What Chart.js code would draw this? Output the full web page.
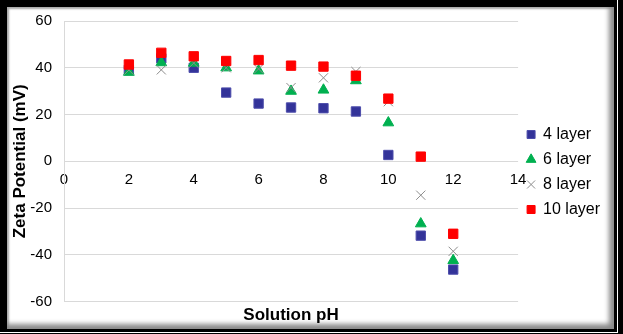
<!DOCTYPE html>
<html>
<head>
<meta charset="utf-8">
<script src="https://cdn.jsdelivr.net/npm/chart.js@4.4.0/dist/chart.umd.min.js"></script>
<style>
  html, body { margin: 0; padding: 0; background: #000; }
  #frame { position: relative; width: 623px; height: 334px; background: #000; overflow: hidden; }
  #panel { position: absolute; left: 7px; top: 7px; width: 607px; height: 322px; background: #fff;
           box-shadow: inset -5px -5px 5px #8a8a8a, inset 2px 2px 2px #aaa; }
  #edge { position: absolute; left: 0; top: 0; width: 618px; height: 333px; box-sizing: border-box;
          border-right: 1px solid #fff; border-bottom: 1px solid #fff; }
  canvas { position: absolute; left: 0; top: 0; }
</style>
</head>
<body>
<div id="frame">
  <div id="edge"></div>
  <div id="panel"></div>
  <canvas id="zetaChart" width="623" height="334"></canvas>
</div>
<script>
// pH values measured
var phValues = [2, 3, 4, 5, 6, 7, 8, 9, 10, 11, 12];

// zeta potential (mV) for each coating
var layer4 = [39, 44, 40, 29.4, 24.7, 23, 22.7, 21.3, 2.7, -31.8, -46.3];
var layer6 = [38.1, 42.2, 42, 40, 38.7, 30, 30.5, 34.5, 16.5, -26.7, -42.4];
var layer8 = [39, 39.1, 42, 40, 39.5, 31.5, 35.7, 38.4, 25.5, -14.5, -38.5];
var layer10 = [41.4, 46.4, 44.9, 42.9, 43.3, 40.9, 40.5, 36.6, 26.8, 2, -31];

var xTicks = [0, 2, 4, 6, 8, 10, 12, 14];

function toPoints(ys) {
    return ys.map(function (y, i) { return { x: phValues[i], y: y }; });
}

var ctx = document.getElementById('zetaChart').getContext('2d');
new Chart(ctx, {
    type: 'scatter',
    data: {
        datasets: [{
            label: '4 layer',
            data: toPoints(layer4),
            pointStyle: 'rect',
            pointRadius: 6.6,
            backgroundColor: '#333399',
            borderColor: '#4d4dab',
            borderWidth: 1,
            order: 4
        }, {
            label: '6 layer',
            data: toPoints(layer6),
            pointStyle: 'triangle',
            pointRadius: 6.2,
            backgroundColor: '#00b050',
            borderColor: '#00b050',
            borderWidth: 1,
            order: 3
        }, {
            label: '8 layer',
            data: toPoints(layer8),
            pointStyle: 'crossRot',
            pointRadius: 6.5,
            backgroundColor: '#8c8c8c',
            borderColor: '#8c8c8c',
            borderWidth: 1,
            order: 2
        }, {
            label: '10 layer',
            data: toPoints(layer10),
            pointStyle: 'rect',
            pointRadius: 6.6,
            backgroundColor: '#ff0000',
            borderColor: '#ff0000',
            borderWidth: 1,
            order: 1
        }]
    },
    options: {
        responsive: false,
        animation: false,
        layout: { padding: { left: 8, top: 18, right: 13, bottom: 8 } },
        plugins: {
            tooltip: { enabled: false },
            legend: {
                position: 'right',
                labels: {
                    usePointStyle: true,
                    boxWidth: 8,
                    boxHeight: 8,
                    padding: 9,
                    color: '#000',
                    font: { family: 'Arial, "Liberation Sans"', size: 16 },
                    sort: function (a, b) { return a.datasetIndex - b.datasetIndex; }
                }
            }
        },
        scales: {
            x: {
                type: 'linear',
                position: { y: 0 },
                min: 0,
                max: 14,
                grid: { display: false, drawTicks: false },
                border: { display: false },
                ticks: {
                    stepSize: 2,
                    padding: 10,
                    color: '#000',
                    font: { family: 'Arial, "Liberation Sans"', size: 15 },
                    callback: function (v) { return xTicks.indexOf(v) >= 0 ? v : ''; }
                }
            },
            xTitle: {
                type: 'linear',
                axis: 'x',
                position: 'bottom',
                min: 0,
                max: 14,
                grid: { display: false, drawTicks: false },
                border: { display: false },
                ticks: { display: false },
                title: {
                    display: true,
                    text: 'Solution pH',
                    color: '#000',
                    padding: { top: 4, bottom: 0 },
                    font: { family: 'Arial, "Liberation Sans"', size: 17, weight: 'bold' }
                }
            },
            y: {
                min: -60,
                max: 60,
                grid: { color: '#d9d9d9', lineWidth: 1, drawTicks: false },
                border: { color: '#d9d9d9' },
                ticks: {
                    stepSize: 20,
                    padding: 12,
                    color: '#000',
                    font: { family: 'Arial, "Liberation Sans"', size: 15 }
                },
                title: {
                    display: true,
                    text: 'Zeta Potential (mV)',
                    color: '#000',
                    padding: { top: 2, bottom: 0 },
                    font: { family: 'Arial, "Liberation Sans"', size: 17, weight: 'bold' }
                },
                afterFit: function (scale) { scale.width = 56; }
            }
        }
    }
});
</script>
</body>
</html>
